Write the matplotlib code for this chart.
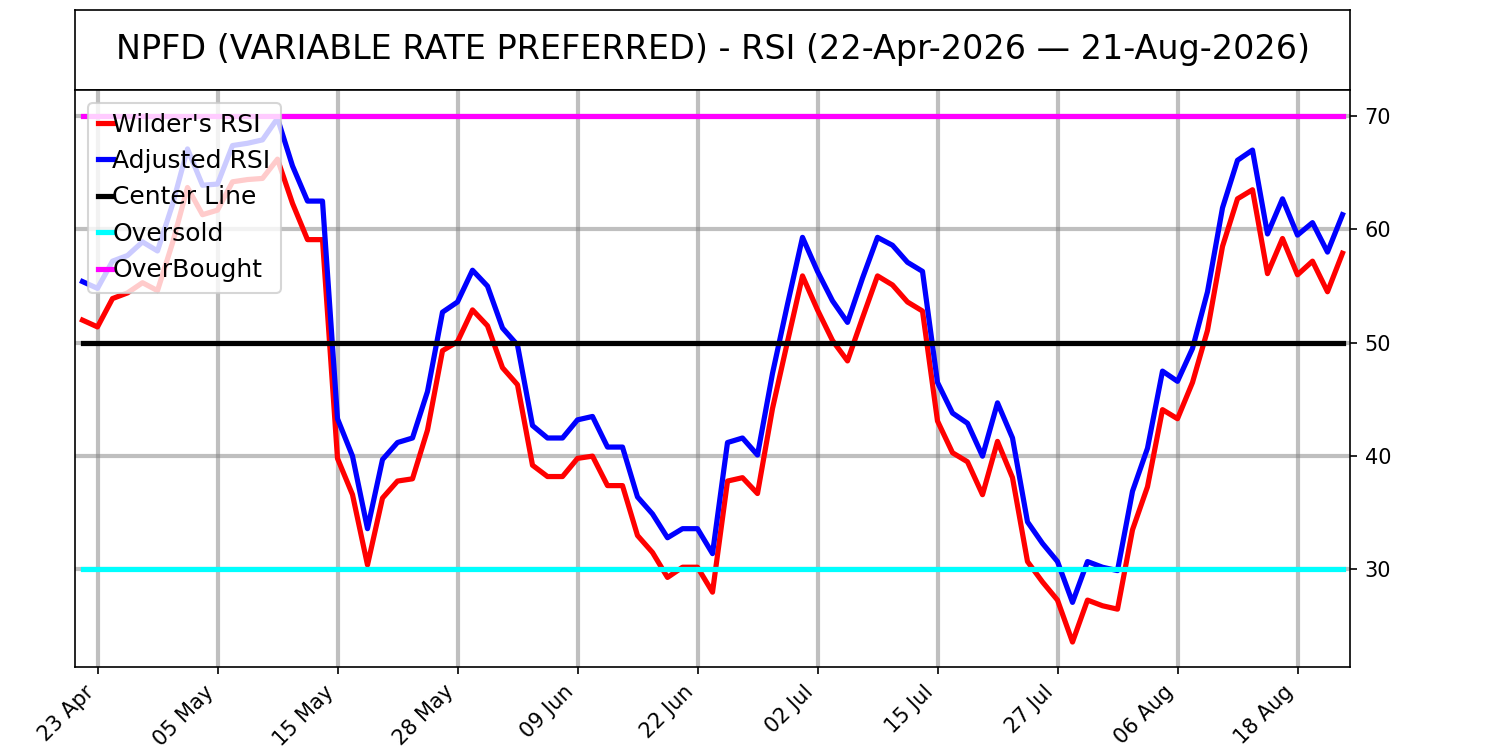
import matplotlib
matplotlib.use("Agg")
import matplotlib.pyplot as plt
import numpy as np

title = "NPFD (VARIABLE RATE PREFERRED) - RSI (22-Apr-2026 \u2014 21-Aug-2026)"

# one value per trading day, 22 Apr .. 21 Aug 2026
wilder_rsi = [52.0, 51.4, 53.9, 54.4, 55.3, 54.6, 58.8, 63.7, 61.3, 61.7,
              64.2, 64.4, 64.5, 66.2, 62.3, 59.1, 59.1, 39.8, 36.6, 30.4,
              36.3, 37.8, 38.0, 42.3, 49.3, 50.1, 52.9, 51.5, 47.8, 46.3,
              39.2, 38.2, 38.2, 39.8, 40.0, 37.4, 37.4, 33.0, 31.5, 29.3,
              30.2, 30.2, 28.0, 37.8, 38.1, 36.7, 44.2, 50.1, 55.9, 52.9,
              50.2, 48.4, 52.2, 55.9, 55.1, 53.6, 52.8, 43.1, 40.3, 39.5,
              36.6, 41.3, 38.1, 30.7, 28.9, 27.3, 23.6, 27.3, 26.8, 26.5,
              33.5, 37.3, 44.1, 43.3, 46.5, 51.1, 58.5, 62.7, 63.5, 56.1,
              59.2, 56.0, 57.2, 54.5, 57.9]

adjusted_rsi = [55.4, 54.8, 57.2, 57.7, 58.9, 58.1, 62.2, 67.1, 63.9, 64.0,
                67.4, 67.6, 67.9, 69.8, 65.6, 62.5, 62.5, 43.3, 40.0, 33.6,
                39.7, 41.2, 41.6, 45.7, 52.7, 53.6, 56.4, 55.0, 51.3, 49.8,
                42.7, 41.6, 41.6, 43.2, 43.5, 40.8, 40.8, 36.4, 34.9, 32.8,
                33.6, 33.6, 31.4, 41.2, 41.6, 40.1, 47.3, 53.4, 59.3, 56.3,
                53.7, 51.8, 55.7, 59.3, 58.6, 57.1, 56.3, 46.5, 43.8, 42.9,
                40.0, 44.7, 41.6, 34.2, 32.3, 30.7, 27.1, 30.7, 30.2, 29.9,
                36.9, 40.7, 47.5, 46.6, 49.5, 54.5, 61.9, 66.1, 67.0, 59.6,
                62.7, 59.5, 60.6, 58.0, 61.3]

# every 8th trading day, starting with the second
tick_labels = ["23 Apr", "05 May", "15 May", "28 May", "09 Jun", "22 Jun",
               "02 Jul", "15 Jul", "27 Jul", "06 Aug", "18 Aug"]

center_level = 50
oversold_level = 30
overbought_level = 70

n = len(wilder_rsi)
x = np.arange(n)

fig = plt.figure(figsize=(10, 5), dpi=150)

# title box above the chart
tax = fig.add_axes([0.05, 0.88, 0.85, 0.1067])
tax.set_xticks([])
tax.set_yticks([])
tax.text(0.5, 0.5, title, ha="center", va="center", fontsize=16, transform=tax.transAxes)

ax = fig.add_axes([0.05, 0.1107, 0.85, 0.7693])
ax.plot(x, wilder_rsi, color="red", lw=2.5, label="Wilder's RSI")
ax.plot(x, adjusted_rsi, color="blue", lw=2.5, label="Adjusted RSI")
ax.plot(x, [center_level] * n, color="black", lw=2.5, label="Center Line")
ax.plot(x, [oversold_level] * n, color="cyan", lw=2.5, label="Oversold")
ax.plot(x, [overbought_level] * n, color="magenta", lw=2.5, label="OverBought")

ax.set_xlim(-0.5, n - 0.5)
ax.set_ylim(21.4, 72.3)
ax.yaxis.tick_right()
ax.set_yticks([30, 40, 50, 60, 70])

tick_pos = list(range(1, n, 8))
ax.set_xticks(tick_pos)
ax.set_xticklabels(tick_labels, rotation=45, ha="right")

ax.grid(True, color="gray", alpha=0.5, lw=2)
ax.set_axisbelow(True)

ax.legend(loc="upper left", fontsize=12, handlelength=0.6, handletextpad=0.0,
          borderaxespad=0.5)

plt.savefig("out.png")
